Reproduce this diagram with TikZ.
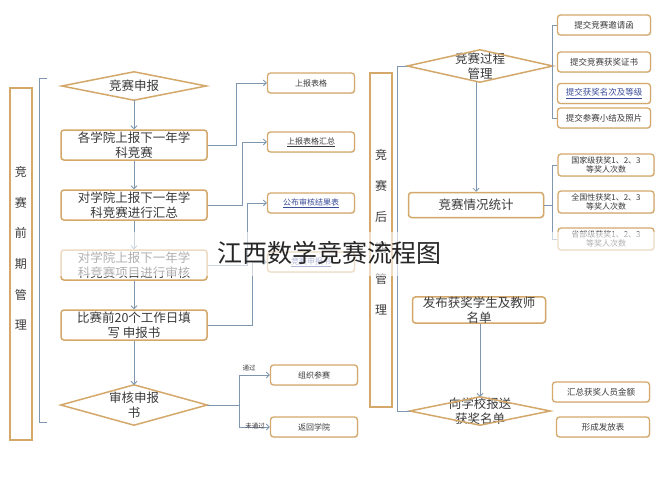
\documentclass[tikz,border=0pt]{standalone}
\usepackage{fontspec}
\setmainfont{Noto Sans CJK SC}
\usetikzlibrary{arrows.meta,shadows}
\definecolor{bord}{HTML}{D4A86A}
\definecolor{conn}{HTML}{7F96B0}
\definecolor{txt}{HTML}{3A3A3A}
\definecolor{lnk}{HTML}{3A4C9A}
\tikzset{
  bx/.style={draw=bord, line width=1.5pt, rounded corners=3pt, fill=white, text=txt,
    inner sep=0pt, align=center,
    drop shadow={opacity=0.18, shadow xshift=0.8pt, shadow yshift=-0.8pt}},
  bigbox/.style={bx, minimum width=146pt, minimum height=30pt, font=\fontsize{12.5}{14.5}\selectfont},
  smallbox/.style={bx, line width=1.3pt, minimum width=87pt, minimum height=20pt, font=\fontsize{8}{9}\selectfont},
  rbox/.style={bx, line width=1.3pt, minimum width=93pt, minimum height=20pt, font=\fontsize{8.5}{9.5}\selectfont},
  statbox/.style={bx, line width=1.3pt, minimum width=96pt, minimum height=22pt, font=\fontsize{8}{9.5}\selectfont},
  dianode/.style={inner sep=0pt, text=txt, align=center, font=\fontsize{12.5}{14.5}\selectfont},
  diaedge/.style={draw=bord, line width=1.5pt, line join=miter},
  labrect/.style={draw=bord, line width=1.5pt, fill=white, inner sep=0pt, minimum width=22pt},
  vtext/.style={text=txt, align=center, inner sep=0pt},
  cn/.style={draw=conn, line width=0.8pt},
  ar/.style={cn, -{Straight Barb[length=3pt,width=6pt]}},
  lk/.style={text=lnk}
}
\begin{document}
\begin{tikzpicture}[x=1pt,y=-1pt]
\useasboundingbox[fill=white] (0,0) rectangle (657,490);

% ---------- left section ----------
\node[labrect, minimum height=352pt] (lrect) at (21,264) {};
\node[vtext, font=\fontsize{12}{30.6}\selectfont] (ltext) at (21,248.5) {竞\\赛\\前\\期\\管\\理};
\coordinate (lbt) at (47,78);
\coordinate (lbb) at (47,422);
\draw[cn] (lbt) -- ++(-8,0) |- (lbb);

\node[dianode, minimum width=144pt, minimum height=28pt] (a1) at (134,86) {竞赛申报};
\draw[diaedge] (a1.west) -- (a1.north) -- (a1.east) -- (a1.south) -- cycle;
\node[bigbox] (a2) at (134,145) {各学院上报下一年学\\科竞赛};
\node[bigbox] (a3) at (134,205) {对学院上报下一年学\\科竞赛进行汇总};
\node[bigbox] (a4) at (134,265) {对学院上报下一年学\\科竞赛项目进行审核};
\node[bigbox] (a5) at (134,325) {比赛前20个工作日填\\写 申报书};
\node[dianode, minimum width=146pt, minimum height=40pt] (a6) at (134,405) {审核申报\\书};
\draw[diaedge] (a6.west) -- (a6.north) -- (a6.east) -- (a6.south) -- cycle;

\draw[ar] (a1.south) -- (a2.north);
\draw[ar] (a2.south) -- (a3.north);
\draw[ar] (a3.south) -- (a4.north);
\draw[ar] (a4.south) -- (a5.north);
\draw[ar] (a5.south) -- (a6.north);

\node[smallbox] (b1) at (311,83) {上报表格};
\node[smallbox] (b2) at (311,142) {\underline{上报表格汇总}};
\node[smallbox, lk] (b3) at (311,203) {\underline{公布审核结果表}};
\node[smallbox, lk] (b4) at (311,262) {\underline{竞赛申报书}};
\node[smallbox] (b5) at (314,375) {组织参赛};
\node[smallbox] (b6) at (314,427) {返回学院};

\draw[ar] (a2.east) -- ++(29,0) |- (b1.west);
\draw[ar] (a3.east) -- ++(35,0) |- (b2.west);
\draw[ar] (a4.east) -- ++(40,0) |- (b3.west);
\draw[ar] (a5.east) -- ++(45,0) |- (b4.west);
\draw[cn] (a6.east) -- ++(32,0) coordinate (sp);
\draw[ar] (sp) |- (b5.west);
\draw[ar] (sp) |- (b6.west);
\node[text=txt, font=\fontsize{6.5}{7}\selectfont, inner sep=0pt] (lp) at (249,368) {通过};
\node[text=txt, font=\fontsize{6.5}{7}\selectfont, inner sep=0pt] (lf) at (255,426) {未通过};

% ---------- right section ----------
\node[labrect, minimum height=334pt] (rrect) at (381,240) {};
\node[vtext, font=\fontsize{12}{31}\selectfont] (rtext) at (381,232.5) {竞\\赛\\后\\期\\管\\理};

\node[dianode, minimum width=145pt, minimum height=32pt] (d1) at (480,66) {竞赛过程\\管理};
\draw[diaedge] (d1.west) -- (d1.north) -- (d1.east) -- (d1.south) -- cycle;
\node[bigbox, minimum width=135pt, minimum height=25pt] (c1) at (476,205) {竞赛情况统计};
\node[bigbox, minimum width=133pt, minimum height=26pt] (c2) at (479,310) {发布获奖学生及教师\\名单};
\node[dianode, minimum width=140pt, minimum height=28pt] (d2) at (480,411) {向学校报送\\获奖名单};
\draw[diaedge] (d2.west) -- (d2.north) -- (d2.east) -- (d2.south) -- cycle;

\draw[ar] (d1.south -| c1.north) -- (c1.north);
\draw[ar] (c2.south -| d2.north) -- (d2.north);
\draw[cn] (d1.west) -- ++(-10,0) |- (d2.west);

\node[rbox] (e1) at (604,25) {提交竞赛邀请函};
\node[rbox] (e2) at (604,62) {提交竞赛获奖证书};
\node[rbox, lk] (e3) at (604,93.5) {\underline{提交获奖名次及等级}};
\node[rbox] (e4) at (604,118) {提交参赛小结及照片};
\draw[cn] (e1.west) -- ++(-4.5,0) coordinate (eb) |- (e4.west);
\draw[cn] (d1.east) -- (d1.east -| eb);

\node[statbox] (f1) at (606,165) {国家级获奖1、2、3\\等奖人次数};
\node[statbox] (f2) at (606,202) {全国性获奖1、2、3\\等奖人次数};
\node[statbox] (f3) at (606,239) {省部级获奖1、2、3\\等奖人次数};
\draw[cn] (f1.west) -- ++(-5,0) coordinate (fb) |- (f3.west);
\draw[cn] (c1.east) -- (c1.east -| fb);

\node[rbox, minimum width=97pt] (g1) at (601,392) {汇总获奖人员金额};
\node[rbox] (g2) at (603,427) {形成发放表};

% ---------- watermark ----------
\fill[white, opacity=0.6] (48,232) rectangle (657,276);
\node[text=black!85, font=\fontsize{25}{26}\selectfont, inner sep=0pt] (wm) at (329.5,253) {江西数学竞赛流程图};
\end{tikzpicture}
\end{document}
